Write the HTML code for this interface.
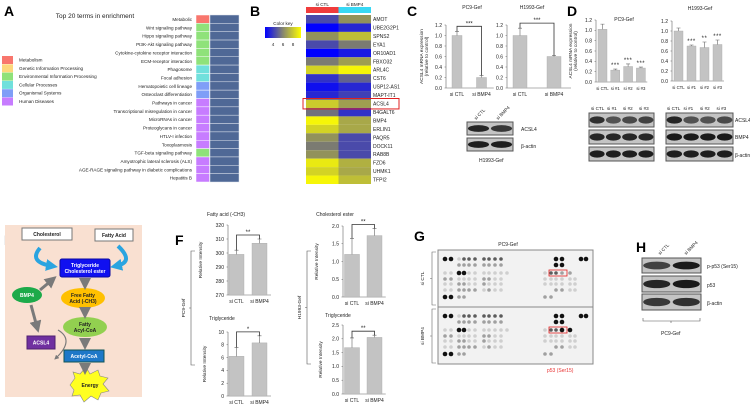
<!DOCTYPE html>
<html><head><meta charset="utf-8"><style>
html,body{margin:0;padding:0;background:#fff}
svg{display:block;font-family:"Liberation Sans",sans-serif}
</style></head><body>
<svg id="fig" width="750" height="409" viewBox="0 0 750 409" xmlns="http://www.w3.org/2000/svg"></svg>
<script>
// ---------- DATA ----------
const aTerms=['Metabolic','Wnt signaling pathway','Hippo signaling pathway','PI3K-Akt signaling pathway','Cytokine-cytokine receptor interaction','ECM-receptor interaction','Phagosome','Focal adhesion','Hematopoietic cell lineage','Osteoclast differentiation','Pathways in cancer','Transcriptional misregulation in cancer','MicroRNAs in cancer','Proteoglycans in cancer','HTLV-I infection','Toxoplasmosis','TGF-beta signaling pathway','Amyotrophic lateral sclerosis (ALS)','AGE-RAGE signaling pathway in diabetic complications','Hepatitis B'];
const aTermCat=[0,2,2,2,2,2,3,3,4,4,5,5,5,5,5,5,2,5,5,5];
const aCatNames=['Metabolism','Genetic Information Processing','Environmental Information Processing','Cellular Processes','Organismal Systems','Human Diseases'];
const aCatColors=['#f8766d','#fdd77b','#8fe27a','#70e0dc','#7f9ef7','#c77cff'];
const bGenes=['AMOT','UBE2G2P1','SPNS2','EYA1','OR10AD1','FBXO32','ARL4C','CST6','USP12-AS1','MAPT-IT1','ACSL4','B4GALT6','BMP4','ERLIN1','PAQR5','DOCK11','RAB8B','FZD6','UHMK1','TFPI2'];
const bCTL=[5.0,3.5,6.5,5.0,3.5,6.0,8.0,4.5,3.8,4.3,7.8,5.8,8.8,8.0,6.5,6.0,6.5,8.5,8.0,8.8];
const bBMP4=[6.5,4.3,7.5,6.0,4.0,6.8,8.8,5.5,4.3,4.8,6.8,4.5,7.0,7.0,5.0,5.0,5.0,7.2,7.0,7.5];
const cCats=['si CTL','si BMP4'];
const cTicks=['0.0','0.2','0.4','0.6','0.8','1.0','1.2'];
const cPC9Vals=[1.0,0.2];
const cPC9Err=[0.08,0.04];
const cH1993Vals=[1.0,0.6];
const cH1993Err=[0.14,0.02];
const dCats=['si CTL','si #1','si #2','si #3'];
const dPC9Vals=[1.02,0.23,0.3,0.27];
const dPC9Err=[0.1,0.02,0.05,0.02];
const dPC9Stars=['','***','***','***'];
const dH1993Vals=[1.0,0.7,0.67,0.73];
const dH1993Err=[0.06,0.02,0.11,0.09];
const dH1993Stars=['','***','**','***'];
const fFattyTicks=['270','280','290','300','310','320'];
const fFattyVals=[299,307];
const fFattyErr=[3,3];
const fTrigTicks=['0','2','4','6','8','10'];
const fTrigVals=[6.2,8.3];
const fTrigErr=[1.4,1.1];
const fCholTicks=['0.0','0.5','1.0','1.5','2.0'];
const fCholVals=[1.2,1.73];
const fCholErr=[0.45,0.2];
const fTrig2Ticks=['0.0','0.5','1.0','1.5','2.0','2.5'];
const fTrig2Vals=[1.68,2.05];
const fTrig2Err=[0.35,0.08];

// ---------- HELPERS ----------
const svg=document.getElementById('fig');
const NS='http://www.w3.org/2000/svg';
function mk(tag,attrs,parent){const e=document.createElementNS(NS,tag);for(const k in attrs)e.setAttribute(k,attrs[k]);(parent||svg).appendChild(e);return e;}
function txt(s,x,y,fs,opt,parent){const e=mk('text',Object.assign({x:x,y:y,'font-size':fs,fill:'#222'},opt||{}),parent);e.textContent=s;return e;}
function grp(name){const g=mk('g',{});

return g;}

[['A',4,16],['B',250,16],['C',407,16],['D',567,16],['E',4,245],['F',175,245],['G',414,241],['H',636,252]].forEach(p=>{
 const t=txt(p[0],p[1],p[2],14,{'font-weight':'bold',fill:'#000'});
 
 
});

// ---------- PANEL A ----------
(function(){
 const g=grp('panel-a-enrichment');
 const t=txt('Top 20 terms in enrichment',95,18,6.5,{'text-anchor':'middle'},g);
 
 
 const top=15,h=8.35;
 aTerms.forEach((term,i)=>{
  const y=top+i*h;
  const c=mk('rect',{x:196,y:y,width:13.5,height:h,fill:aCatColors[aTermCat[i]],stroke:'#fff','stroke-width':0.5},g);
  
  
  const b=mk('rect',{x:210,y:y,width:29,height:h,fill:'#4f6896',stroke:'#dfe4ee','stroke-width':0.5},g);
  
  
  const l=txt(term,192,y+6,4.6,{'text-anchor':'end'},g);
  
  
 });
 aCatNames.forEach((n,i)=>{
  const y=56+i*8.3;
  const s=mk('rect',{x:2,y:y,width:11,height:8,fill:aCatColors[i]},g);
  
  
  const l=txt(n,19,y+5.5,4.6,{},g);
  
  
 });
})();

// ---------- PANEL B ----------
function heatColor(v){let t=(v-3.5)/5.5;t=Math.max(0,Math.min(1,t));let r,gg,b;
 if(t<0.5){const u=t/0.5;r=0+135*u;gg=0+135*u;b=255-155*u;}else{const u=(t-0.5)/0.5;r=135+120*u;gg=135+120*u;b=100-100*u;}
 return 'rgb('+Math.round(r)+','+Math.round(gg)+','+Math.round(b)+')';}
(function(){
 const g=grp('panel-b-heatmap');
 const x0=306,w=32.5,top=15,h=8.45;
 const hb1=mk('rect',{x:x0,y:7,width:w,height:6,fill:'#f03c3c'},g);
 
 
 const hb2=mk('rect',{x:x0+w,y:7,width:w,height:6,fill:'#38d8f4'},g);
 
 
 const t1=txt('si CTL',x0+w/2,6,4.6,{'text-anchor':'middle'},g);
 
 
 const t2=txt('si BMP4',x0+w*1.5,6,4.6,{'text-anchor':'middle'},g);
 
 
 bGenes.forEach((gn,i)=>{
  const y=top+i*h;
  const c1=mk('rect',{x:x0,y:y,width:w,height:h,fill:heatColor(bCTL[i])},g);
  
  
  const c2=mk('rect',{x:x0+w,y:y,width:w,height:h,fill:heatColor(bBMP4[i])},g);
  
  
  const l=txt(gn,373,y+6,5,{},g);
  
  
 });
 const box=mk('rect',{x:303,y:top+10*h-1,width:96,height:h+2,fill:'none',stroke:'#e02020','stroke-width':1},g);
 
 
 const defs=mk('defs',{},g);
 const lg=mk('linearGradient',{id:'ck',x1:0,x2:1,y1:0,y2:0},defs);
 mk('stop',{offset:0,'stop-color':'#0000ff'},lg);mk('stop',{offset:0.5,'stop-color':'#87876e'},lg);mk('stop',{offset:1,'stop-color':'#ffff00'},lg);
 const ck=mk('rect',{x:265,y:27,width:36,height:11,fill:'url(#ck)'},g);
 
 
 const ct=txt('Color key',283,25,4.6,{'text-anchor':'middle'},g);
 
 
 [['4',273],['6',283],['8',293]].forEach(p=>{const k=txt(p[0],p[1],46,4.6,{'text-anchor':'middle'},g);
  
  });
})();

// ---------- BAR CHART ----------
function barChart(o,cats,vals,errs,ticks,name,stars){
 const g=grp(name);
 const vmin=parseFloat(ticks[0]),vmax=parseFloat(ticks[ticks.length-1]);
 const y=v=>o.yBot-(v-vmin)/(vmax-vmin)*(o.yBot-o.yTop);
 const x=i=>o.c0+i*o.step;
 const fs=o.fs||5;
 const ax=mk('line',{x1:o.ax,y1:o.yTop,x2:o.ax,y2:o.yBot,stroke:'#666','stroke-width':0.6},g);
 
 
 const bx=mk('line',{x1:o.ax,y1:o.yBot,x2:x(cats.length-1)+o.step/2,y2:o.yBot,stroke:'#666','stroke-width':0.6},g);
 
 
 ticks.forEach(t=>{
  const tl=txt(t,o.ax-4,y(parseFloat(t))+1.8,5,{'text-anchor':'end'},g);
  
  
  const tm=mk('line',{x1:o.ax-1.5,y1:y(parseFloat(t)),x2:o.ax,y2:y(parseFloat(t)),stroke:'#666','stroke-width':0.5},g);
  
  
 });
 vals.forEach((v,i)=>{
  const r=mk('rect',{x:x(i)-o.w/2,y:y(v),width:o.w,height:o.yBot-y(v),fill:'#c3c3c3',stroke:'#a8a8a8','stroke-width':0.4},g);
  
  
  const e=mk('path',{d:'M'+x(i)+' '+y(v)+'V'+y(v+errs[i])+'M'+(x(i)-2)+' '+y(v+errs[i])+'H'+(x(i)+2),stroke:'#666','stroke-width':0.6,fill:'none'},g);
  
  
  const l=txt(cats[i],x(i),o.yBot+8,fs,{'text-anchor':'middle'},g);
  
  
  if(stars&&stars[i]){const s=txt(stars[i],x(i),y(v+errs[i])-2,6,{'text-anchor':'middle','letter-spacing':'0.5'},g);
   
   }
 });
 if(o.bracket){
  const yb=Math.min(y(vals[0]+errs[0]),y(vals[1]+errs[1]))-o.bracket[0];
  const p=mk('path',{d:'M'+x(0)+' '+y(vals[0]+errs[0])+'V'+yb+'H'+x(1)+'V'+y(vals[1]+errs[1]),stroke:'#333','stroke-width':0.8,fill:'none'},g);
  
  
  const s=txt(o.bracket[1],(x(0)+x(1))/2,yb-1,6,{'text-anchor':'middle'},g);
  
  
 }
 if(o.title){const t=txt(o.title,o.tx,o.ty,5,{'text-anchor':'middle'},g);
  
  }
 if(o.ylab){const yl=txt(o.ylab,0,0,4.8,{'text-anchor':'middle',transform:'translate('+o.ylx+','+(o.yTop+o.yBot)/2+') rotate(-90)'},g);
  
  
  if(o.ylab2){const y2=txt(o.ylab2,0,0,4.8,{'text-anchor':'middle',transform:'translate('+(o.ylx+5)+','+(o.yTop+o.yBot)/2+') rotate(-90)'},g);
  
  }}
}
barChart({ax:446,yTop:25,yBot:88,c0:457,step:24.5,w:10,title:'PC9-Gef',tx:472,ty:9,ylab:'ACSL4 mRNA expression',ylab2:'(relative to control)',ylx:423,bracket:[5,'***']},cCats,cPC9Vals,cPC9Err,cTicks,'chart-c-pc9',null);
barChart({ax:507,yTop:25,yBot:88,c0:520,step:34,w:14,title:'H1993-Gef',tx:532,ty:9,bracket:[5,'***']},cCats,cH1993Vals,cH1993Err,cTicks,'chart-c-h1993',null);
barChart({ax:596,yTop:20,yBot:82,c0:602.5,step:12.8,w:9,fs:4.3,title:'PC9-Gef',tx:624,ty:21,ylab:'ACSL4 mRNA expression',ylab2:'(relative to control)',ylx:572},dCats,dPC9Vals,dPC9Err,cTicks,'chart-d-pc9',dPC9Stars);
barChart({ax:672,yTop:21,yBot:81,c0:678.5,step:13,w:9,fs:4.3,title:'H1993-Gef',tx:700,ty:10},dCats,dH1993Vals,dH1993Err,cTicks,'chart-d-h1993',dH1993Stars);
barChart({ax:228,yTop:225,yBot:295,c0:236.5,step:23,w:15,title:'Fatty acid (-CH3)',tx:226,ty:216,ylab:'Relative Intensity',ylx:202,bracket:[4,'**']},cCats,fFattyVals,fFattyErr,fFattyTicks,'chart-f-fatty-acid',null);
barChart({ax:228,yTop:332,yBot:396,c0:236.5,step:23,w:15,title:'Triglyceride',tx:222,ty:320,ylab:'Relative Intensity',ylx:206,bracket:[4,'*']},cCats,fTrigVals,fTrigErr,fTrigTicks,'chart-f-triglyceride-pc9',null);
barChart({ax:343,yTop:226,yBot:297,c0:352,step:22.5,w:15,title:'Cholesterol ester',tx:335,ty:216,ylab:'Relative Intensity',ylx:318,bracket:[4,'**']},cCats,fCholVals,fCholErr,fCholTicks,'chart-f-cholesterol-ester',null);
barChart({ax:343,yTop:325,yBot:394,c0:352,step:22.5,w:15,title:'Triglyceride',tx:338,ty:317,ylab:'Relative Intensity',ylx:322,bracket:[4,'**']},cCats,fTrig2Vals,fTrig2Err,fTrig2Ticks,'chart-f-triglyceride-h1993',null);

function brace(x,y1,y2,label,name){const g=grp(name);
 const p=mk('path',{d:'M'+(x+4)+' '+y1+'H'+x+'V'+y2+'H'+(x+4)+'M'+(x-2)+' '+((y1+y2)/2)+'H'+x,stroke:'#555','stroke-width':0.6,fill:'none'},g);
 
 
 const t=txt(label,0,0,4.8,{'text-anchor':'middle',transform:'translate('+(x-6)+','+((y1+y2)/2)+') rotate(-90)'},g);
 
 }
brace(191,251,365,'PC9-Gef','brace-pc9');
brace(307,251,364,'H1993-Gef','brace-h1993');

// ---------- WESTERN BLOTS ----------
function blot(x,y,w,h,n,intens,name){const g=grp(name);
 const r=mk('rect',{x:x,y:y,width:w,height:h,fill:'#c4c4c4',stroke:'#555','stroke-width':1},g);
 
 
 for(let i=0;i<n;i++){const cx=x+w*(i+0.5)/n;
  const b=mk('ellipse',{cx:cx,cy:y+h/2,rx:w/n*0.46,ry:h*0.26,fill:'#151515','fill-opacity':intens[i]},g);
  
  }}
function lbl(s,x,y,fs,name,rot){const t=txt(s,x,y,fs||5,rot?{transform:'rotate(-45 '+x+' '+y+')'}:{});
 
 }
blot(467,122,46,13,2,[0.9,0.8],'blot-c-acsl4');
blot(467,138,46,13,2,[0.95,0.95],'blot-c-actin');
lbl('ACSL4',521,131,5,'blot-label');lbl('β-actin',521,148,5,'blot-label');
lbl('H1993-Gef',479,162,5,'blot-cell-line-label');
lbl('si CTL',476,120,4.6,'blot-lane-label',true);lbl('si BMP4',498,120,4.6,'blot-lane-label',true);
blot(589,113,65,14,4,[0.85,0.65,0.7,0.75],'blot-d-pc9-acsl4');
blot(589,130,65,14,4,[0.9,0.9,0.9,0.9],'blot-d-pc9-bmp4');
blot(589,147,65,14,4,[0.95,0.95,0.95,0.95],'blot-d-pc9-actin');
blot(666,113,67,14,4,[0.9,0.65,0.65,0.7],'blot-d-h1993-acsl4');
blot(666,130,67,14,4,[0.97,0.97,0.97,0.97],'blot-d-h1993-bmp4');
blot(666,147,67,14,4,[0.95,0.95,0.95,0.95],'blot-d-h1993-actin');
dCats.forEach((c,i)=>{lbl(c,591+i*16,110,4.6,'blot-lane-label');lbl(c,667+i*16.5,110,4.6,'blot-lane-label');});
lbl('ACSL4',735,122,5,'blot-label');lbl('BMP4',735,139,5,'blot-label');lbl('β-actin',735,157,5,'blot-label');
blot(642,258,59,15,2,[0.75,0.97],'blot-h-p-p53');
blot(642,276,59,16,2,[0.9,0.97],'blot-h-p53');
blot(642,294,59,16,2,[0.8,0.85],'blot-h-actin');
lbl('p-p53 (Ser15)',707,268,5,'blot-label');lbl('p53',707,287,5,'blot-label');lbl('β-actin',707,305,5,'blot-label');
lbl('si CTL',660,255,4.6,'blot-lane-label',true);lbl('si BMP4',686,255,4.6,'blot-lane-label',true);
(function(){const p=mk('path',{d:'M643 318v3H700v-3M671 321v2',stroke:'#555','stroke-width':0.6,fill:'none'});
 
 })();
lbl('PC9-Gef',661,335,5,'blot-cell-line-label');

// ---------- PANEL G DOT BLOT ----------
const gCols=[445,451,459,464,469,475,484,489,495,501,507,545,551,556,562,570,575,581,586];
const gRowsTop=['4413333333000440044','0022222222000440000','1144111111113322000','2211112211011111100','1122112111011111100','1122221211000221100','4422000000022000000'];
const gRowsBot=['4413333333000440044','0022222222000440000','1144111111113344000','2211112211011111100','1122112111011111100','1122221211000221100','4422000000022000000'];
(function(){
 const g=grp('panel-g-dot-blot');
 const t=txt('PC9-Gef',508,246,5,{'text-anchor':'middle'},g);
 
 
 const shade=['none','#cfcfcf','#a0a0a0','#5c5c5c','#111'];
 [[250,gRowsTop,'membrane-si-ctl'],[307,gRowsBot,'membrane-si-bmp4']].forEach(m=>{
  const r=mk('rect',{x:438,y:m[0],width:155,height:57,fill:'#f2f2f2',stroke:'#888','stroke-width':1},g);
  
  
  const ry=[9,15,23,29,34,40,47];
  m[1].forEach((row,ri)=>{for(let ci=0;ci<gCols.length;ci++){const v=+row[ci];if(!v)continue;
   const d=mk('circle',{cx:gCols[ci],cy:m[0]+ry[ri],r:v==4?2.3:1.8,fill:shade[v]},g);
   
   }});
  const hb=mk('rect',{x:549,y:m[0]+20,width:18,height:6,fill:'none',stroke:'#e02020','stroke-width':0.8},g);
  
  
 });
 [[252,305,'si CTL'],[309,363,'si BMP4']].forEach(b=>{
  const p=mk('path',{d:'M436 '+b[0]+'H432V'+b[1]+'H436M430 '+((b[0]+b[1])/2)+'H432',stroke:'#666','stroke-width':0.6,fill:'none'},g);
  
  
  const l=txt(b[2],0,0,4.8,{'text-anchor':'middle',transform:'translate(424,'+((b[0]+b[1])/2)+') rotate(-90)'},g);
  
  
 });
 const r=txt('p53 (Ser15)',547,372,5,{fill:'#e83030'},g);
 
 
})();

// ---------- PANEL E DIAGRAM ----------
(function(){
 const g=grp('panel-e-pathway-diagram');
 const defs=mk('defs',{},g);
 const mkr=mk('marker',{id:'ag',markerWidth:4,markerHeight:4,refX:2,refY:2,orient:'auto',markerUnits:'strokeWidth'},defs);
 mk('path',{d:'M0 0L4 2L0 4z',fill:'#7a7a7a'},mkr);
 const mkb=mk('marker',{id:'ab',markerWidth:3,markerHeight:3,refX:1.5,refY:1.5,orient:'auto',markerUnits:'strokeWidth'},defs);
 mk('path',{d:'M0 0L3 1.5L0 3z',fill:'#2aa4e0'},mkb);
 const bg=mk('rect',{x:5,y:225,width:137,height:172,fill:'#f9e0d1'},g);
 
 
 function box(x,y,w,h,fill,stroke,label,color,name,rx){
  const r=mk('rect',{x:x,y:y,width:w,height:h,fill:fill,stroke:stroke,'stroke-width':1,rx:rx||0},g);
  
  
  label.forEach((s,i)=>{const t=txt(s,x+w/2,y+h/2+2-(label.length-1)*3+i*6,5,{'text-anchor':'middle','font-weight':'bold',fill:color},g);
   
   });}
 function ell(cx,cy,rx,ry,fill,label,color,name){
  const e=mk('ellipse',{cx:cx,cy:cy,rx:rx,ry:ry,fill:fill},g);
  
  
  label.forEach((s,i)=>{const t=txt(s,cx,cy+2-(label.length-1)*3+i*6,5,{'text-anchor':'middle','font-weight':'bold',fill:color},g);
   
   });}
 function arrow(d,name){const p=mk('path',{d:d,stroke:'#7a7a7a','stroke-width':3,fill:'none','marker-end':'url(#ag)'},g);
  
  }
 box(22,228,50,12,'#fff','#777',['Cholesterol'],'#222','cholesterol-box');
 box(95,229,38,12,'#fff','#777',['Fatty Acid'],'#222','fatty-acid-box');
 box(60,259,50,18,'#1010f0','#0a0aa0',['Triglyceride','Cholesterol ester'],'#fff','triglyceride-box',2);
 ell(83,298,22,10,'#ffc000',['Free Fatty','Acid (-CH3)'],'#222','free-fatty-acid-node');
 ell(85,327,22,10,'#92d050',['Fatty','Acyl-CoA'],'#222','fatty-acyl-coa-node');
 box(64,350,40,12,'#1e78c8','#155',['Acetyl-CoA'],'#fff','acetyl-coa-box');
 ell(27,295,15,8,'#1daa4a',['BMP4'],'#fff','bmp4-node');
 box(27,336,28,13,'#7030a0','#502070',['ACSL4'],'#fff','acsl4-box');
 const star=mk('polygon',{points:'70,385 75,378 73,372 80,374 86,367 90,374 98,370 100,376 108,378 103,384 109,391 101,393 98,400 91,396 84,402 80,395 72,396 74,390',fill:'#ffff20',stroke:'#888','stroke-width':0.6},g);
 
 
 const et=txt('Energy',90,387,5,{'text-anchor':'middle','font-weight':'bold'},g);
 
 
 const c1=mk('path',{d:'M40 248 Q28 262 52 266',stroke:'#2aa4e0','stroke-width':4,fill:'none','marker-end':'url(#ab)'},g);
 
 
 const c2=mk('path',{d:'M118 246 Q135 262 116 266',stroke:'#2aa4e0','stroke-width':4,fill:'none','marker-end':'url(#ab)'},g);
 
 
 arrow('M85 279V284','arrow-to-free-fatty-acid');
 arrow('M85 309V313','arrow-to-acyl-coa');
 arrow('M85 338V344','arrow-to-acetyl-coa');
 arrow('M85 363V369','arrow-to-energy');
 arrow('M40 290L52 280','arrow-bmp4-to-triglyceride');
 arrow('M31 305L37 327','arrow-bmp4-to-acsl4');
 const cv=mk('path',{d:'M58 330 Q75 340 56 358',stroke:'#7a7a7a','stroke-width':1.2,fill:'none','marker-end':'url(#ag)'},g);
 
 
})();
</script>
</body></html>
